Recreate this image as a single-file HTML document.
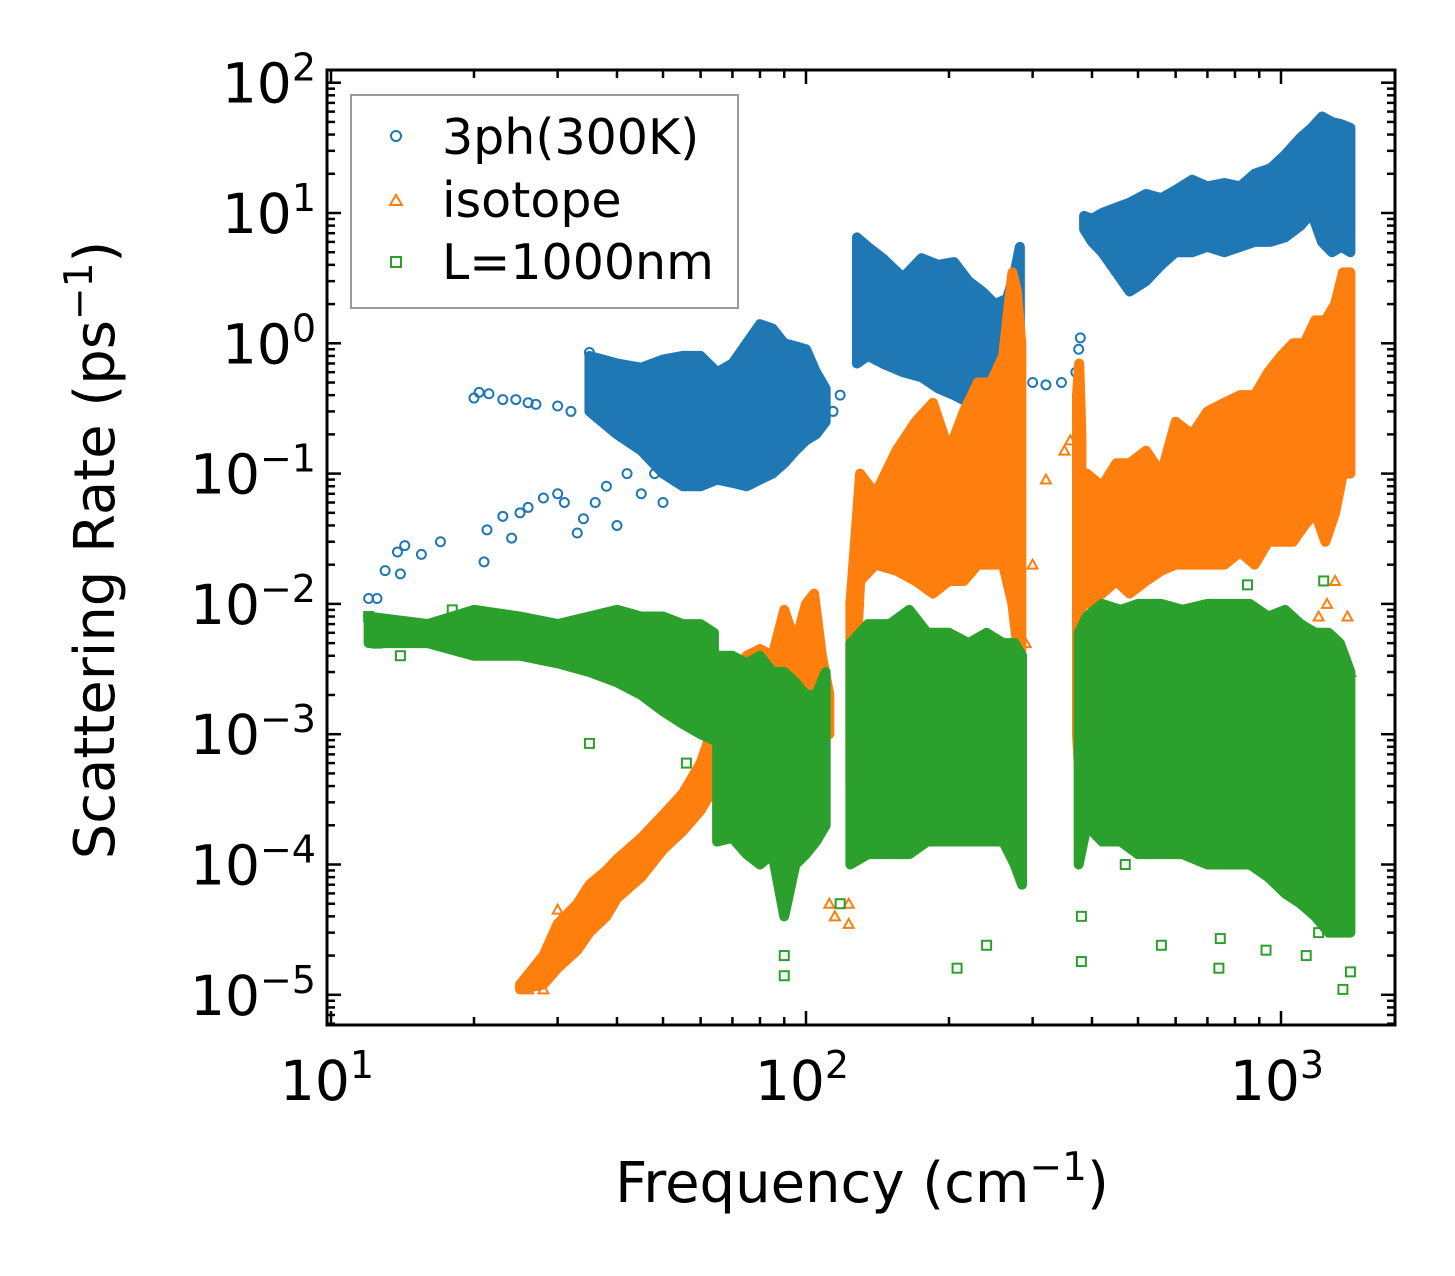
<!DOCTYPE html>
<html><head><meta charset="utf-8"><style>
html,body{margin:0;padding:0;background:#fff}
svg{display:block;font-family:"DejaVu Sans","Liberation Sans",sans-serif}
</style></head><body>
<svg id="chart" width="1455" height="1276" viewBox="0 0 1455 1276" xmlns="http://www.w3.org/2000/svg">
<rect width="1455" height="1276" fill="#fff"/>
<g id="plot"></g>
<g id="axes"></g>
<text transform="translate(114,550) rotate(-90)" text-anchor="middle" font-size="56">Scattering Rate (ps<tspan baseline-shift="super" font-size="39">−1</tspan>)</text>
<text x="862" y="1202" text-anchor="middle" font-size="56">Frequency (cm<tspan baseline-shift="super" font-size="39">−1</tspan>)</text>
<g>
<rect x="351" y="95" width="387" height="213" fill="#fff" stroke="#999" stroke-width="2"/>
<circle cx="396" cy="136" r="5" fill="none" stroke="#1f77b4" stroke-width="2"/>
<text x="442" y="154" font-size="49">3ph(300K)</text>
<path d="M390,205 L396,195 L402,205 Z" fill="none" stroke="#ff7f0e" stroke-width="2"/>
<text x="442" y="217" font-size="49">isotope</text>
<rect x="391" y="257" width="10" height="10" fill="none" stroke="#2ca02c" stroke-width="2"/>
<text x="442" y="279" font-size="49">L=1000nm</text>
</g>
</svg>
<script>
// ---- data (frequency cm^-1, rate ps^-1) ----
const blueBands = [
 [[35,40,45,50,55,60,65,70,75,80,85,90,95,100,105,110],
  [0.3,0.2,0.15,0.1,0.08,0.08,0.09,0.085,0.08,0.09,0.1,0.12,0.15,0.18,0.2,0.25],
  [0.8,0.7,0.65,0.75,0.8,0.8,0.6,0.7,1.0,1.4,1.3,1.0,0.95,0.9,0.6,0.45]],
 [[128,135,145,160,175,190,205,220,235,250,265,275,282],
  [0.7,0.8,0.7,0.6,0.55,0.45,0.4,0.35,0.4,0.5,0.6,0.7,0.9],
  [6.5,5.5,4.5,3.2,4.5,4.0,4.2,3.0,2.5,2.0,2.2,3.5,5.5]],
 [[385,400,420,450,480,520,560,600,650,700,760,820,880,950,1020,1100,1160,1220,1280,1340,1400],
  [7.5,6,5,3.5,2.5,3,4,5,5,5.5,5,5.5,6,6,6.5,8,10,6,5,5.5,5],
  [9.5,9,10,11,12,14,13,15,18,16,17,16,20,22,28,38,45,55,50,48,45]]
];
const bluePts = [[12,0.011],[12.5,0.011],[13,0.018],[13.8,0.025],[14.3,0.028],[14,0.017],[15.5,0.024],[17,0.03],[20,0.38],[20.5,0.42],[21.5,0.41],[23,0.37],[24.5,0.37],[26,0.35],[27,0.34],[21,0.021],[21.3,0.037],[23,0.047],[24,0.032],[25,0.05],[26,0.055],[28,0.065],[30,0.07],[31,0.06],[33,0.035],[34,0.045],[30,0.33],[32,0.3],[35,0.85],[37,0.75],[36,0.06],[38,0.08],[40,0.04],[42,0.1],[45,0.07],[48,0.1],[50,0.06],[40,0.3],[44,0.35],[48,0.25],[114,0.3],[118,0.4],[300,0.5],[320,0.48],[345,0.5],[370,0.6],[375,0.9],[378,1.1]];
const orangeBands = [
 [[25,28,30,33,35,38,40,45,50,55,60,63,66,70,75,80,85,90,95,100,104,108,112],
  [1.1e-5,1.2e-5,1.6e-5,2.2e-5,3e-5,4e-5,5.5e-5,8e-5,1.3e-4,1.8e-4,2.6e-4,3.5e-4,5e-4,6e-4,6e-4,6e-4,7e-4,8e-4,9e-4,1e-3,1e-3,1e-3,1e-3],
  [1.2e-5,2e-5,3.5e-5,5e-5,7e-5,9e-5,1.1e-4,1.6e-4,2.4e-4,3.5e-4,6e-4,1e-3,2e-3,3e-3,4e-3,4.5e-3,4e-3,9e-3,5e-3,1e-2,1.2e-2,4e-3,2e-3]],
 [[124,130,140,155,170,185,200,215,230,245,260,272,278,284],
  [4e-4,0.015,0.02,0.018,0.015,0.012,0.015,0.015,0.02,0.02,0.02,0.01,0.005,0.003],
  [0.01,0.1,0.07,0.15,0.25,0.35,0.15,0.3,0.5,0.5,0.8,3.5,2.5,1.0]],
 [[372,376,380],[0.001,5e-4,0.005],[0.4,0.7,0.2]],
 [[390,420,450,480,520,560,600,650,700,760,820,880,940,1000,1060,1120,1180,1240,1300,1350,1400],
  [0.01,0.012,0.015,0.012,0.015,0.018,0.02,0.02,0.02,0.02,0.025,0.02,0.03,0.03,0.03,0.04,0.05,0.03,0.05,0.1,0.1],
  [0.1,0.08,0.12,0.12,0.15,0.1,0.25,0.2,0.3,0.35,0.4,0.4,0.6,0.8,1.0,1.0,1.5,1.5,2.0,3.5,3.5]]
];
const orangePts = [[26,1.1e-5],[28,1.1e-5],[30,4.5e-5],[112,5e-5],[115,4e-5],[123,3.5e-5],[123,5e-5],[290,0.005],[300,0.02],[320,0.09],[350,0.15],[360,0.18],[375,0.015],[375,0.003],[1250,0.01],[1300,0.015],[1380,0.008],[1400,0.003],[1200,0.008]];
const greenBands = [
 [[12,16,20,25,30,35,40,45,50,55,60,64],
  [0.005,0.005,0.004,0.004,0.0035,0.003,0.0025,0.002,0.0015,0.0012,0.001,0.0009],
  [0.008,0.007,0.009,0.008,0.007,0.008,0.009,0.008,0.008,0.007,0.007,0.006]],
 [[65,70,75,80,85,90,95,100,105,110],
  [1.5e-4,1.6e-4,1.2e-4,1e-4,1.2e-4,4e-5,1e-4,1.2e-4,1.5e-4,2e-4],
  [0.004,0.004,0.0035,0.004,0.003,0.003,0.0025,0.002,0.002,0.003]],
 [[124,135,150,165,180,200,220,240,260,275,285],
  [1e-4,1.2e-4,1.2e-4,1.2e-4,1.5e-4,1.5e-4,1.5e-4,1.5e-4,1.5e-4,1e-4,7e-5],
  [0.005,0.007,0.007,0.009,0.006,0.006,0.005,0.006,0.005,0.005,0.004]],
 [[375,390,420,460,500,560,620,700,780,860,940,1020,1100,1180,1260,1330,1400],
  [1e-4,2e-4,1.5e-4,1.5e-4,1.2e-4,1.2e-4,1.2e-4,1e-4,1e-4,1e-4,8e-5,6e-5,5e-5,4e-5,3e-5,3e-5,3e-5],
  [0.006,0.008,0.01,0.009,0.01,0.01,0.009,0.01,0.01,0.01,0.008,0.009,0.007,0.006,0.006,0.005,0.003]]
];
const greenPts = [[12,0.008],[12.5,0.005],[14,0.004],[18,0.009],[35,8.5e-4],[56,6e-4],[90,2e-5],[90,1.4e-5],[118,5e-5],[208,1.6e-5],[240,2.4e-5],[380,1.8e-5],[380,4e-5],[470,1e-4],[560,2.4e-5],[740,1.6e-5],[745,2.7e-5],[930,2.2e-5],[1130,2e-5],[1200,3e-5],[1350,1.1e-5],[1400,1.5e-5],[1230,0.015],[850,0.014]];
const yTickExps = [2,1,0,-1,-2,-3,-4,-5];
const xTickExps = [1,2,3];

// ---- axes ----
const L=327,R=1395,T=70,B=1025;
const X10_2=806, XDEC=475, Y10_2=82.7, YDEC=130.3;
const xs=f=>X10_2+(Math.log10(f)-2)*XDEC;
const ys=v=>Y10_2+(2-Math.log10(v))*YDEC;
const NS="http://www.w3.org/2000/svg";
const plot=document.getElementById('plot'), axes=document.getElementById('axes');
function mk(tag,attrs,parent){const e=document.createElementNS(NS,tag);for(const k in attrs)e.setAttribute(k,attrs[k]);parent.appendChild(e);return e;}
const cp=mk('clipPath',{id:'clip'},document.getElementById('chart'));
mk('rect',{x:L,y:T,width:R-L,height:B-T},cp);
plot.setAttribute('clip-path','url(#clip)');

function marker(kind,f,v,color,g){
 const x=xs(f),y=ys(v);let e;
 if(kind==='c') e=mk('circle',{cx:x,cy:y,r:4.5,fill:'none',stroke:color,'stroke-width':2},g);
 else if(kind==='t') e=mk('path',{d:`M${x-5},${y+4} L${x},${y-5} L${x+5},${y+4} Z`,fill:'none',stroke:color,'stroke-width':2},g);
 else e=mk('rect',{x:x-4.5,y:y-4.5,width:9,height:9,fill:'none',stroke:color,'stroke-width':2},g);
 return e;
}
function series(bands,pts,kind,color,name){
 const g=mk('g',{},plot);
 
 
 bands.forEach((b,i)=>{
  const [f,lo,hi]=b;
  let d='';
  f.forEach((fv,j)=>{d+=(j?'L':'M')+xs(fv)+','+ys(hi[j]);});
  for(let j=f.length-1;j>=0;j--) d+='L'+xs(f[j])+','+ys(lo[j]);
  d+='Z';
  const p=mk('path',{d:d,fill:color,stroke:color,'stroke-width':10,'stroke-linejoin':'round'},g);
  
  
 });
 pts.forEach(p=>{
  const m=marker(kind,p[0],p[1],color,g);
  
  
 });
}
series(blueBands,bluePts,'c','#1f77b4','3ph');
series(orangeBands,orangePts,'t','#ff7f0e','isotope');
series(greenBands,greenPts,'s','#2ca02c','boundary');

// frame
mk('rect',{x:L,y:T,width:R-L,height:B-T,fill:'none',stroke:'#000','stroke-width':3},axes);
// y ticks
for(let e=-6;e<=2;e++){
 for(let m=1;m<10;m++){
  const v=m*Math.pow(10,e); if(v<Math.pow(10,-5.23)||v>Math.pow(10,2.09))continue;
  const y=ys(v), len=m===1?14:8;
  mk('line',{x1:L,x2:L+len,y1:y,y2:y,stroke:'#000','stroke-width':2.5},axes);
  mk('line',{x1:R,x2:R-len,y1:y,y2:y,stroke:'#000','stroke-width':2.5},axes);
 }
}
yTickExps.forEach(e=>{
 const t=mk('text',{x:316,y:ys(Math.pow(10,e))+20,'text-anchor':'end','font-size':55},axes);
 
 
 t.innerHTML='10<tspan baseline-shift="super" font-size="38">'+(e<0?'−'+(-e):e)+'</tspan>';
});
// x ticks
for(let e=0;e<=3;e++){
 for(let m=1;m<10;m++){
  const f=m*Math.pow(10,e); const x=xs(f); if(x<L||x>R)continue;
  const len=m===1?14:8;
  mk('line',{x1:x,x2:x,y1:B,y2:B-len,stroke:'#000','stroke-width':2.5},axes);
  mk('line',{x1:x,x2:x,y1:T,y2:T+len,stroke:'#000','stroke-width':2.5},axes);
 }
}
xTickExps.forEach(e=>{
 const t=mk('text',{x:xs(Math.pow(10,e))-4,y:1100,'text-anchor':'middle','font-size':55},axes);
 
 
 t.innerHTML='10<tspan baseline-shift="super" font-size="38">'+e+'</tspan>';
});
</script>
</body></html>
